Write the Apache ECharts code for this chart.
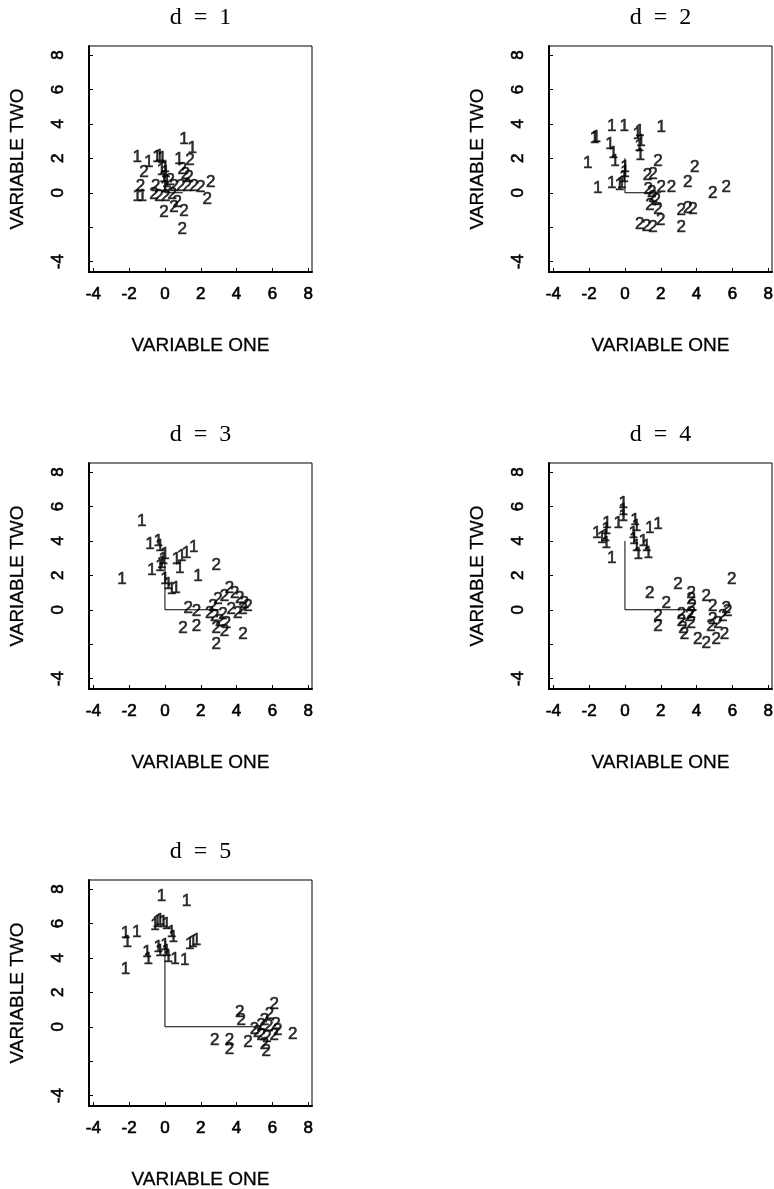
<!DOCTYPE html>
<html>
<head>
<meta charset="utf-8">
<script src="https://cdn.jsdelivr.net/npm/echarts@6/dist/echarts.min.js"></script>
<style>
  html, body { margin: 0; padding: 0; background: #fff; }
  #chart { width: 774px; height: 1189px; }
</style>
</head>
<body>
<div id="chart"></div>
<script>
// data
var dValues = [1, 2, 3, 4, 5];
var tickValues = [-4, -2, 0, 2, 4, 6, 8];
var yLabelValues = [-4, 0, 2, 4, 6, 8];

var d1One = [[1.06,3.1],[1.53,2.6],[-1.55,2.03],[-0.9,1.76],[-0.45,2.05],[-0.3,2.1],[-0.15,2.0],[0.78,1.94],
  [0,1.5],[0.05,1.2],[-0.05,0.9],[0.1,0.6],[0,0.3],[-1.55,-0.2],[-1.27,-0.2],[-0.2,1.3]];
var d1Two = [[1.4,1.88],[-1.17,1.16],[0.97,1.35],[1.15,1.06],[1.34,0.87],[-1.36,0.38],[-0.52,0.38],[-0.61,-0.1],
  [0.5,0.38],[0.88,0.38],[1.25,0.38],[1.62,0.38],[2.0,0.29],[2.55,0.58],[2.36,-0.39],[-0.34,-0.2],[0.04,-0.2],
  [0.41,-0.1],[0.69,-0.58],[1.06,-1.07],[0.5,-0.87],[-0.06,-1.16],[0.97,-2.13],[0.3,0.7]];

var d2One = [[-0.74,3.86],[-0.04,3.86],[0.83,3.57],[0.9,3.0],[0.8,2.7],[0.85,2.2],[2.03,3.8],[-1.7,3.16],[-1.6,3.2],
  [-0.83,2.79],[-0.65,2.29],[-0.56,1.8],[-2.08,1.7],[0,1.5],[0,1.2],[-0.05,0.92],[-1.52,0.24],[-0.74,0.53],
  [-0.3,0.45],[-0.18,0.53],[0.7,3.4]];
var d2Two = [[1.85,1.8],[1.26,1.0],[1.57,1.1],[3.9,1.5],[2.03,0.33],[2.6,0.33],[3.5,0.63],[1.5,0],[1.57,-0.25],
  [1.74,-0.43],[1.4,-0.74],[1.85,-0.94],[3.14,-1.03],[3.5,-0.9],[3.8,-0.98],[0.83,-1.82],[1.2,-1.92],[1.57,-2.0],
  [2.0,-1.62],[3.14,-2.0],[4.9,-0.06],[5.65,0.33],[1.3,0.2]];

var d3One = [[-1.3,5.13],[-0.83,3.78],[-0.37,3.97],[-0.28,3.68],[0,3.2],[-0.1,2.9],[-0.18,2.7],[-0.28,2.5],
  [0.65,2.9],[0.93,3.1],[1.2,3.3],[1.6,3.6],[0.83,2.42],[-2.4,1.74],[-0.74,2.3],[0,1.74],[0.19,1.45],
  [0.37,1.16],[0.61,1.26],[1.85,1.94]];
var d3Two = [[2.87,2.6],[1.3,0.1],[1.76,-0.1],[1.0,-1.06],[1.76,-0.97],[3.6,1.26],[3.9,0.97],[4.17,0.68],
  [4.44,0.39],[3.33,0.77],[2.96,0.58],[2.68,0.19],[2.5,-0.19],[2.78,-0.39],[3.06,-0.68],[3.43,-0.77],
  [3.24,-0.29],[3.7,0],[4.07,-0.19],[4.35,0],[4.63,0.19],[2.87,-1.06],[3.33,-1.26],[4.35,-1.45],[2.87,-2.03]];

var d4One = [[-0.1,6.2],[-0.1,5.8],[-0.1,5.4],[-0.37,5.04],[-1.0,5.0],[-1.05,4.65],[-1.1,4.26],[-1.05,3.87],
  [-1.57,4.46],[-1.3,4.17],[-0.74,3.0],[0.56,5.2],[0.65,4.84],[0.46,4.46],[0.5,4.07],[0.65,3.68],[0.74,3.2],
  [1.02,3.97],[1.2,3.68],[1.3,3.3],[1.39,4.75],[1.85,4.94]];
var d4Two = [[1.39,0.97],[2.3,0.39],[2.96,1.45],[3.7,0.97],[3.7,0.58],[3.75,0.19],[3.7,-0.19],[4.54,0.77],
  [4.9,0.19],[5.65,0.1],[5.96,1.74],[1.85,-0.39],[1.85,-0.97],[3.15,-0.29],[3.15,-0.68],[3.24,-1.06],
  [3.33,-1.45],[3.6,-0.39],[3.7,-0.77],[4.9,-0.58],[5.2,-0.77],[5.46,-0.39],[5.74,-0.1],[4.07,-1.74],
  [4.54,-1.94],[5.1,-1.74],[5.56,-1.45],[4.8,-0.97]];

var d5One = [[-0.19,7.6],[1.2,7.3],[-2.2,5.4],[-2.1,4.9],[-1.57,5.5],[-2.2,3.35],[-0.56,5.87],[-0.43,6.07],
  [-0.28,6.16],[-0.1,6.07],[0.09,5.97],[0.37,5.49],[0.46,5.2],[-1.0,4.33],[-0.93,3.94],[-0.37,4.6],
  [-0.28,4.4],[0,4.7],[0.09,4.4],[0.19,4.03],[0.56,3.94],[1.1,3.84],[1.39,4.8],[1.57,4.9],[1.76,5.0]];
var d5Two = [[4.17,0.84],[4.26,0.35],[6.1,1.32],[5.83,0.74],[5.56,0.35],[5.37,0.06],[6.2,0.16],[6.3,-0.23],
  [6.1,-0.52],[7.13,-0.42],[5.0,-0.13],[5.18,-0.33],[5.37,-0.52],[2.78,-0.81],[3.6,-0.81],[3.6,-1.3],
  [4.63,-0.9],[5.56,-1.0],[5.65,-1.4],[5.8,0.0],[5.7,-0.6]];

var groupOne = [d1One, d2One, d3One, d4One, d5One];
var groupTwo = [d1Two, d2Two, d3Two, d4Two, d5Two];

// layout
var boxes = [[89, 46], [549, 46], [89, 463], [549, 463], [89, 880]];
var boxW = 223, boxH = 226;
var sans = 'Liberation Sans, Arial, sans-serif';

var grid = [], xAxis = [], yAxis = [], series = [], graphic = [];

dValues.forEach(function (d, i) {
    var left = boxes[i][0], top = boxes[i][1];
    grid.push({
        left: left, top: top, width: boxW, height: boxH,
        show: true, borderColor: '#000', borderWidth: 1,
        containLabel: false, outerBoundsMode: 'none'
    });
    xAxis.push({
        gridIndex: i, type: 'value', min: -4.24, max: 8.21,
        splitLine: { show: false },
        axisLine: { onZero: false, lineStyle: { color: '#000', width: 2 } },
        axisTick: { inside: true, length: 4, customValues: tickValues, lineStyle: { color: '#000' } },
        axisLabel: {
            customValues: tickValues, margin: 14, fontSize: 17, color: '#000', fontFamily: sans,
            textBorderColor: '#000', textBorderWidth: 0.6
        },
        name: 'VARIABLE ONE', nameLocation: 'middle', nameGap: 64,
        nameTextStyle: { fontSize: 19, color: '#000', fontFamily: sans, textBorderColor: '#000', textBorderWidth: 0.3 }
    });
    yAxis.push({
        gridIndex: i, type: 'value', min: -4.6, max: 8.52,
        splitLine: { show: false },
        axisLine: { onZero: false, lineStyle: { color: '#000', width: 2 } },
        axisTick: { inside: true, length: 4, customValues: tickValues, lineStyle: { color: '#000' } },
        axisLabel: {
            customValues: yLabelValues, rotate: 90, margin: 22, fontSize: 17, color: '#000', fontFamily: sans,
            textBorderColor: '#000', textBorderWidth: 0.6
        },
        name: 'VARIABLE TWO', nameLocation: 'middle', nameRotate: 90, nameGap: 62,
        nameTextStyle: { fontSize: 19, color: '#000', fontFamily: sans, textBorderColor: '#000', textBorderWidth: 0.3 }
    });
    // lines from origin to the two class centres
    series.push({
        type: 'line', xAxisIndex: i, yAxisIndex: i, symbol: 'none', silent: true,
        data: [[0, d], [0, 0], [d, 0]],
        lineStyle: { color: '#000', width: 1 }
    });
    [groupOne[i], groupTwo[i]].forEach(function (pts, k) {
        series.push({
            type: 'scatter', xAxisIndex: i, yAxisIndex: i, silent: true,
            data: pts, symbolSize: 1,
            itemStyle: { color: 'rgba(0,0,0,0)' },
            label: {
                show: true, position: 'inside', formatter: String(k + 1),
                fontSize: 17, color: '#000', fontFamily: sans,
                textBorderColor: '#000', textBorderWidth: 0.6
            }
        });
    });
    graphic.push({
        type: 'text', x: left + boxW / 2, y: top - 28,
        style: {
            text: 'd  =  ' + d, font: '24px "Liberation Serif", "Times New Roman", serif',
            fill: '#000', textAlign: 'center', textVerticalAlign: 'middle'
        }
    });
});

var myChart = echarts.init(document.getElementById('chart'));
myChart.setOption({
    animation: false,
    grid: grid,
    xAxis: xAxis,
    yAxis: yAxis,
    series: series,
    graphic: graphic
});
</script>
</body>
</html>
